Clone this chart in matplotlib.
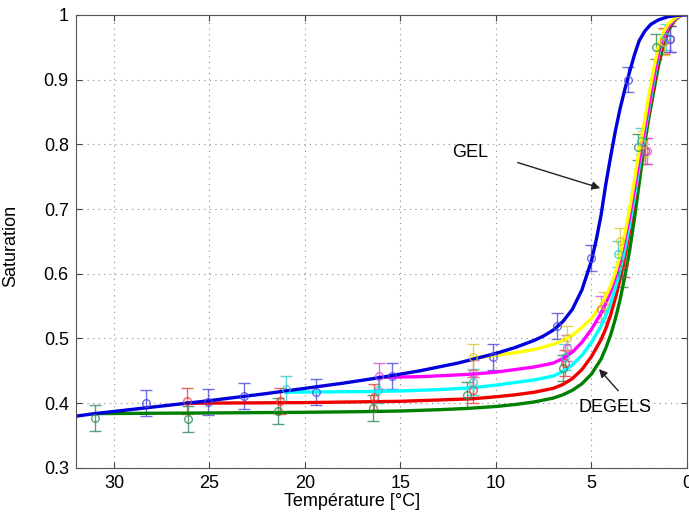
import numpy as np
import matplotlib
matplotlib.use('Agg')
import matplotlib.pyplot as plt

plt.rcParams['font.family'] = ['Liberation Sans', 'DejaVu Sans']

# courbes (température en °C, saturation)
gel_T = [32.0, 31.0, 28.0, 25.0, 22.0, 20.0, 18.0, 16.0, 14.0, 12.0, 10.0, 9.0, 8.0, 7.5,
         7.0, 6.5, 6.0, 5.5, 5.0, 4.75, 4.5, 4.25, 4.0, 3.75, 3.5, 3.25, 3.0, 2.75, 2.5,
         2.2, 1.9, 1.5, 1.0, 0.5, 0.0]
gel_S = [0.380, 0.384, 0.394, 0.404, 0.415, 0.423, 0.431, 0.440, 0.450, 0.462, 0.477,
         0.486, 0.497, 0.504, 0.513, 0.526, 0.545, 0.575, 0.620, 0.652, 0.690, 0.738,
         0.780, 0.820, 0.855, 0.885, 0.912, 0.938, 0.960, 0.975, 0.985, 0.992, 0.997,
         0.999, 1.0]

jaune_T = [11.2, 10.0, 9.0, 8.0, 7.5, 7.0, 6.5, 6.0, 5.5, 5.0, 4.5, 4.25, 4.0, 3.75, 3.5,
           3.25, 3.0, 2.75, 2.5, 2.25, 2.0, 1.75, 1.5, 1.25, 1.0, 0.6, 0.3, 0.0]
jaune_S = [0.470, 0.474, 0.478, 0.483, 0.487, 0.491, 0.497, 0.505, 0.517, 0.531, 0.552,
           0.565, 0.581, 0.602, 0.628, 0.662, 0.700, 0.745, 0.790, 0.830, 0.875, 0.915,
           0.950, 0.972, 0.985, 0.996, 0.999, 1.0]

magenta_T = [16.1, 14.0, 12.5, 11.2, 10.0, 9.0, 8.0, 7.0, 6.5, 6.0, 5.5, 5.0, 4.5, 4.25,
             4.0, 3.75, 3.5, 3.25, 3.0, 2.75, 2.5, 2.25, 2.0, 1.75, 1.5, 1.25, 1.0, 0.6,
             0.3, 0.0]
magenta_S = [0.440, 0.441, 0.443, 0.445, 0.448, 0.452, 0.456, 0.462, 0.469, 0.479, 0.494,
             0.514, 0.539, 0.554, 0.572, 0.594, 0.620, 0.652, 0.688, 0.730, 0.774, 0.817,
             0.860, 0.902, 0.940, 0.966, 0.982, 0.995, 0.999, 1.0]

cyan_T = [21.0, 17.0, 15.0, 13.0, 11.2, 10.0, 9.0, 8.0, 7.0, 6.5, 6.0, 5.5, 5.0, 4.5,
          4.25, 4.0, 3.75, 3.5, 3.25, 3.0, 2.75, 2.5, 2.25, 2.0, 1.75, 1.5, 1.25, 1.0,
          0.6, 0.3, 0.0]
cyan_S = [0.417, 0.418, 0.419, 0.421, 0.424, 0.428, 0.432, 0.436, 0.442, 0.449, 0.459,
          0.474, 0.494, 0.519, 0.535, 0.554, 0.578, 0.605, 0.638, 0.675, 0.718, 0.765,
          0.810, 0.853, 0.895, 0.935, 0.963, 0.981, 0.995, 0.999, 1.0]

rouge_T = [26.2, 20.0, 15.0, 13.0, 11.2, 10.0, 9.0, 8.0, 7.0, 6.5, 6.0, 5.5, 5.0, 4.5,
           4.25, 4.0, 3.75, 3.5, 3.25, 3.0, 2.75, 2.5, 2.25, 2.0, 1.75, 1.5, 1.25, 1.0,
           0.6, 0.3, 0.0]
rouge_S = [0.400, 0.401, 0.403, 0.405, 0.407, 0.410, 0.413, 0.417, 0.423, 0.429, 0.438,
           0.452, 0.472, 0.498, 0.515, 0.536, 0.562, 0.592, 0.627, 0.667, 0.712, 0.762,
           0.808, 0.848, 0.888, 0.928, 0.958, 0.978, 0.994, 0.999, 1.0]

vert_T = [31.0, 25.0, 20.0, 17.0, 15.0, 13.0, 11.5, 10.0, 9.0, 8.0, 7.0, 6.5, 6.0, 5.5,
          5.0, 4.5, 4.25, 4.0, 3.75, 3.5, 3.25, 3.0, 2.75, 2.5, 2.25, 2.0, 1.75, 1.5,
          1.25, 1.0, 0.6, 0.3, 0.0]
vert_S = [0.384, 0.385, 0.386, 0.387, 0.388, 0.390, 0.392, 0.395, 0.398, 0.402, 0.408,
          0.413, 0.420, 0.430, 0.445, 0.468, 0.485, 0.505, 0.530, 0.560, 0.596, 0.636,
          0.685, 0.740, 0.795, 0.840, 0.880, 0.920, 0.952, 0.975, 0.993, 0.999, 1.0]

# mesures
mes_gel_T = [28.3, 25.1, 23.2, 19.4, 15.45, 10.15, 6.8, 5.0, 3.1, 0.9]
mes_gel_S = [0.401, 0.402, 0.411, 0.418, 0.442, 0.472, 0.519, 0.625, 0.900, 0.963]
mes_rouge_T = [26.2, 21.3, 16.4, 11.2, 6.4, 3.3, 2.2, 1.2]
mes_rouge_S = [0.404, 0.404, 0.410, 0.420, 0.462, 0.615, 0.789, 0.960]
mes_vert_T = [31.0, 26.1, 21.4, 16.45, 11.5, 6.5, 3.4, 2.55, 1.6]
mes_vert_S = [0.377, 0.376, 0.388, 0.392, 0.413, 0.455, 0.600, 0.796, 0.951]
mes_cyan_T = [21.0, 16.2, 11.2, 6.4, 3.6, 2.4, 1.1]
mes_cyan_S = [0.422, 0.420, 0.433, 0.472, 0.630, 0.805, 0.965]
mes_magenta_T = [16.1, 11.2, 6.3, 4.5, 2.1, 0.9]
mes_magenta_S = [0.442, 0.447, 0.486, 0.545, 0.790, 0.962]
mes_jaune_T = [11.2, 6.3, 4.35, 3.5, 2.3, 1.2]
mes_jaune_S = [0.472, 0.500, 0.552, 0.650, 0.800, 0.958]
erreur = 0.02

fig = plt.figure(figsize=(6.89, 5.15), dpi=100)
ax = fig.add_axes([0.110, 0.0913, 0.887, 0.880])

mesures = [
    (mes_vert_T, mes_vert_S, '#2e8b57'),
    (mes_rouge_T, mes_rouge_S, '#e8403a'),
    (mes_cyan_T, mes_cyan_S, '#30c8c8'),
    (mes_magenta_T, mes_magenta_S, '#d050d8'),
    (mes_jaune_T, mes_jaune_S, '#d8c830'),
    (mes_gel_T, mes_gel_S, '#4a4ae0'),
]
for t, s, c in mesures:
    ax.errorbar(t, s, yerr=erreur, fmt='o', mfc='none', mec=c, ecolor=c, ms=5.5,
                mew=1.0, elinewidth=1.0, capsize=4.5, alpha=0.8)

courbes = [
    (vert_T, vert_S, '#008000'),
    (rouge_T, rouge_S, '#ee0000'),
    (cyan_T, cyan_S, '#00ffff'),
    (magenta_T, magenta_S, '#ff00ff'),
    (jaune_T, jaune_S, '#ffff00'),
    (gel_T, gel_S, '#0000dd'),
]
for t, s, c in courbes:
    ax.plot(t, s, color=c, lw=2.4, solid_joinstyle='round')

ax.set_xlim(32, 0)
ax.set_ylim(0.3, 1.0)
ax.set_xticks([30, 25, 20, 15, 10, 5, 0])
ax.set_yticks([0.3, 0.4, 0.5, 0.6, 0.7, 0.8, 0.9, 1.0])
ax.set_yticklabels(['0.3', '0.4', '0.5', '0.6', '0.7', '0.8', '0.9', '1'])
ax.tick_params(direction='in', length=4, labelsize=13, top=True, right=True,
               color='#444444', pad=5)
ax.grid(True, linestyle=(0, (1, 4)), color='#888888', lw=0.8)
for sp in ax.spines.values():
    sp.set_color('#555555')

ax.set_xlabel('Température [°C]', fontsize=13)
ax.set_ylabel('Saturation', fontsize=13)
ax.xaxis.set_label_coords(0.452, -0.055)
ax.yaxis.set_label_coords(-0.093, 0.49)

ax.text(11.36, 0.788, 'GEL', fontsize=13, ha='center', va='center')
ax.annotate('', xy=(4.4, 0.731), xytext=(9.0, 0.773),
            arrowprops=dict(arrowstyle='-|>', color='#222222', lw=1.0,
                            mutation_scale=12))
ax.text(3.77, 0.394, 'DEGELS', fontsize=13, ha='center', va='center')
ax.annotate('', xy=(4.7, 0.456), xytext=(3.5, 0.416),
            arrowprops=dict(arrowstyle='-|>', color='#222222', lw=1.0,
                            mutation_scale=12))

fig.savefig('out.png', dpi=100)
